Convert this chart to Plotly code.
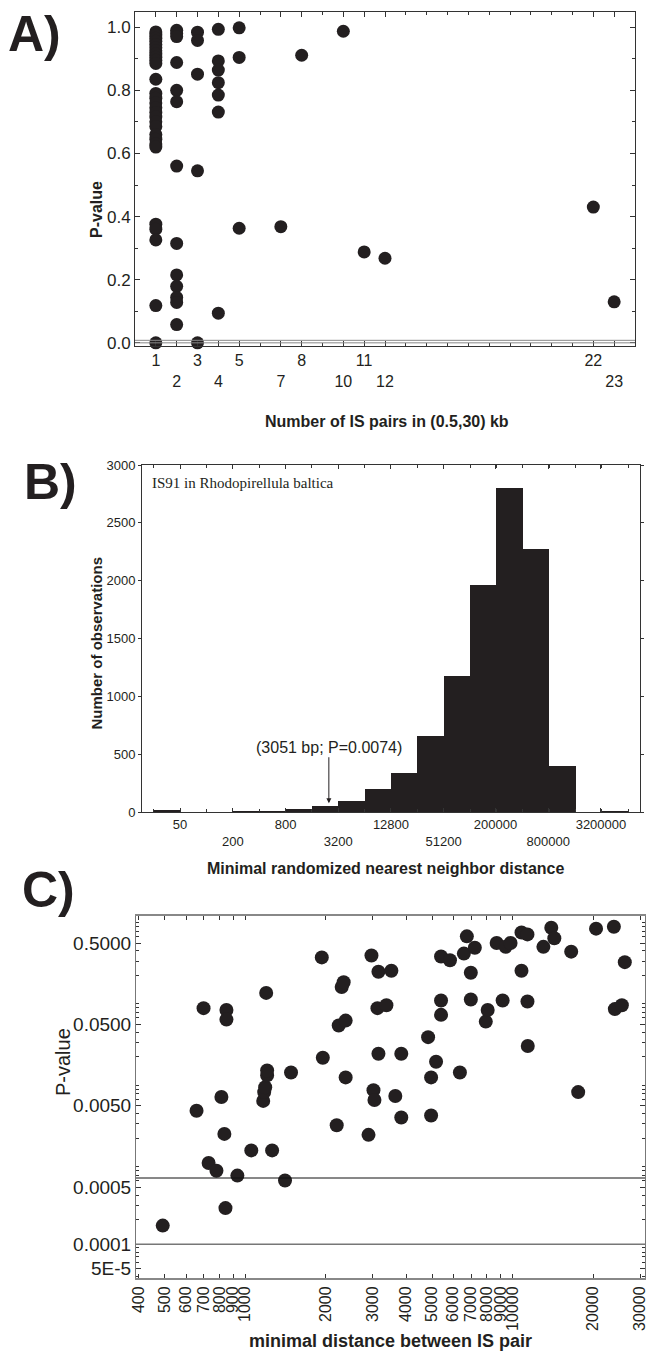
import numpy as np
import plotly.graph_objects as go

# ---------------- Panel A data ----------------
A_COUNTS = ([1] * 29 + [2] * 13 + [3] * 5 + [4] * 7 + [5] * 3 +
            [7, 8, 10, 11, 12, 22, 23])
A_PVALUES = [
    # 1 pair
    0.985, 0.975, 0.965, 0.955, 0.945, 0.935, 0.925, 0.915, 0.905, 0.895, 0.885,
    0.835, 0.79, 0.775, 0.76, 0.745, 0.73, 0.715, 0.70, 0.685, 0.66, 0.645, 0.63,
    0.62, 0.376, 0.36, 0.326, 0.118, 0.0,
    # 2 pairs
    0.99, 0.98, 0.97, 0.888, 0.80, 0.764, 0.56, 0.315, 0.215, 0.179, 0.144, 0.128, 0.058,
    # 3 pairs
    0.984, 0.958, 0.851, 0.545, 0.0,
    # 4 pairs
    0.993, 0.893, 0.864, 0.824, 0.785, 0.731, 0.094,
    # 5 pairs
    0.998, 0.904, 0.363,
    # 7, 8, 10, 11, 12, 22, 23 pairs
    0.368, 0.911, 0.987, 0.288, 0.268, 0.43, 0.13,
]
A_XTICKS = [1, 2, 3, 4, 5, 7, 8, 10, 11, 12, 22, 23]
A_XTICK_ROW = [1, 2, 1, 2, 1, 2, 1, 2, 1, 2, 1, 2]
A_YTICKS = [0.0, 0.2, 0.4, 0.6, 0.8, 1.0]
A_LINES = [0.008, 0.0]

# ---------------- Panel B data ----------------
B_BIN_LOW = [25, 50, 100, 200, 400, 800, 1600, 3200, 6400, 12800, 25600, 51200,
             102400, 204800, 409600, 819200, 1638400, 3276800]
B_COUNTS = [20, 0, 0, 5, 5, 30, 55, 92, 198, 339, 655, 1178, 1966, 2800, 2270,
            402, 0, 5]
B_XTICKS = [50, 200, 800, 3200, 12800, 51200, 200000, 800000, 3200000]
B_XTICK_ROW = [1, 2, 1, 2, 1, 2, 1, 2, 1]
B_YTICKS = [0, 500, 1000, 1500, 2000, 2500, 3000]
B_ARROW_BP = 2500     # arrow position
B_ARROW_TIP = 75
B_ARROW_TEXT_Y = 560

# ---------------- Panel C data ----------------
C_DISTANCE = [491, 657, 698, 729, 780, 814, 835, 843, 850, 850, 934, 1053, 1167,
              1177, 1187, 1207, 1207, 1197, 1260, 1408, 1483, 1933, 1950, 2198,
              2236, 2294, 2334, 2374, 2374, 2891, 2965, 3017, 3043, 3122, 3149,
              3149, 3373, 3520, 3642, 3834, 3834, 4831, 4957, 4957, 5174, 5400,
              5400, 5400, 5833, 6353, 6574, 6745, 6980, 6980, 7224, 7940, 8070,
              8720, 9180, 9420, 9830, 10800, 10800, 11370, 11370, 11400, 13040,
              13960, 14330, 16570, 17600, 20530, 23940, 24140, 25640, 26300]
C_PVALUE = [0.000169, 0.00436, 0.0793, 0.000992, 0.000797, 0.00642, 0.00226,
            0.000277, 0.0751, 0.0573, 0.000695, 0.001417, 0.00575, 0.00737,
            0.00847, 0.01182, 0.01357, 0.122, 0.001417, 0.000606, 0.01285,
            0.333, 0.0195, 0.00289, 0.0486, 0.144, 0.165, 0.0557, 0.01118,
            0.0022, 0.352, 0.00779, 0.0059, 0.0793, 0.222, 0.0218, 0.086, 0.228,
            0.0066, 0.0218, 0.0036, 0.0349, 0.01118, 0.0038, 0.0174, 0.342,
            0.0984, 0.0656, 0.307, 0.01285, 0.371, 0.604, 0.216, 0.101, 0.437,
            0.0542, 0.0751, 0.5, 0.0984, 0.449, 0.5, 0.674, 0.228, 0.638, 0.0958,
            0.0272, 0.449, 0.771, 0.572, 0.392, 0.00737, 0.751, 0.792, 0.0771,
            0.086, 0.291]
C_XTICKS = [400, 500, 600, 700, 800, 900, 1000, 2000, 3000, 4000, 5000, 6000,
            7000, 8000, 9000, 10000, 20000, 30000]
C_YTICKS = [5e-5, 1e-4, 5e-4, 5e-3, 5e-2, 0.5]
C_YTICK_TEXT = ["5E-5", "0.0001", "0.0005", "0.0050", "0.0500", "0.5000"]
C_BONFERRONI = 0.05 / 77
C_LOWLINE = 0.0001

# ---------------- layout helpers ----------------
W, H = 650, 1370
INK = "#231f20"
SANS = "Liberation Sans, Arial, sans-serif"
SERIF = "Liberation Serif, Times New Roman, serif"


def xdom(x0, x1):
    return [x0 / W, x1 / W]


def ydom(top, bottom):
    return [1 - bottom / H, 1 - top / H]


def px(x):
    return x / W


def py(y):
    return 1 - y / H


def two_rows(vals, rows, fmt=str):
    return [fmt(v) if r == 1 else " <br>" + fmt(v) for v, r in zip(vals, rows)]


fig = go.Figure()

fig.add_trace(go.Scatter(x=A_COUNTS, y=A_PVALUES, mode="markers",
                         marker=dict(size=13, color=INK), xaxis="x", yaxis="y",
                         showlegend=False, cliponaxis=False))

b_center = np.log2(np.array(B_BIN_LOW, dtype=float)) + 0.5
fig.add_trace(go.Bar(x=b_center, y=B_COUNTS, width=1.0,
                     marker=dict(color=INK, line=dict(width=0)),
                     xaxis="x2", yaxis="y2", showlegend=False))

fig.add_trace(go.Scatter(x=C_DISTANCE, y=C_PVALUE, mode="markers",
                         marker=dict(size=14, color=INK), xaxis="x3", yaxis="y3",
                         showlegend=False))


def axis(**kw):
    base = dict(showline=True, linecolor="#333333", linewidth=1, mirror="ticks",
                showgrid=False, zeroline=False, tickcolor="#333333", tickwidth=1)
    base.update(kw)
    return base


c_minor = [m * 10.0 ** e for e in range(-5, 1) for m in range(2, 10)]

fig.update_layout(
    width=W, height=H, margin=dict(l=0, r=0, t=0, b=0, autoexpand=False),
    paper_bgcolor="white", plot_bgcolor="white",
    font=dict(family=SANS, color=INK), bargap=0,
    xaxis=axis(domain=xdom(135, 635), range=[0, 24],
               tickmode="array", tickvals=A_XTICKS,
               ticktext=two_rows(A_XTICKS, A_XTICK_ROW),
               ticks="inside", ticklen=5, tickfont=dict(size=16),
               minor=dict(tickmode="linear", tick0=0, dtick=1, ticks="inside",
                          ticklen=3),
               anchor="y"),
    yaxis=axis(domain=ydom(12, 346), range=[-0.01, 1.048],
               tickmode="array", tickvals=A_YTICKS,
               ticktext=["%.1f" % v for v in A_YTICKS],
               ticks="inside", ticklen=5, tickfont=dict(size=17),
               minor=dict(tickmode="linear", tick0=0, dtick=0.1, ticks="inside",
                          ticklen=3),
               anchor="x"),
    xaxis2=axis(domain=xdom(142, 640), range=[4.2, 23.09],
                tickmode="array", tickvals=list(np.log2(B_XTICKS)),
                ticktext=two_rows(B_XTICKS, B_XTICK_ROW),
                ticks="inside", ticklen=4, tickfont=dict(size=13),
                minor=dict(tickmode="linear", tick0=float(np.log2(50)), dtick=1,
                           ticks="inside", ticklen=3),
                anchor="y2"),
    yaxis2=axis(domain=ydom(465, 812), range=[0, 3000],
                tickmode="array", tickvals=B_YTICKS,
                ticktext=[str(v) for v in B_YTICKS],
                ticks="outside", ticklen=3, tickfont=dict(size=13),
                anchor="x2"),
    xaxis3=axis(type="log", domain=xdom(136, 645),
                range=[np.log10(390), np.log10(31300)],
                tickmode="array", tickvals=C_XTICKS,
                ticktext=[str(v) for v in C_XTICKS], tickangle=-90,
                ticks="inside", ticklen=4, tickfont=dict(size=16),
                ticklabeloverflow="allow",
                anchor="y3", linecolor="#888888", linewidth=2),
    yaxis3=axis(type="log", domain=ydom(916, 1278),
                range=[-4.416, 0.031],
                tickmode="array", tickvals=C_YTICKS, ticktext=C_YTICK_TEXT,
                ticks="inside", ticklen=5, tickfont=dict(size=19),
                minor=dict(tickmode="array", tickvals=c_minor, ticks="inside",
                           ticklen=3),
                anchor="x3", linecolor="#777777"),
)

shapes = []
for v in A_LINES:
    shapes.append(dict(type="line", xref="x domain", yref="y", x0=0, x1=1,
                       y0=v, y1=v, line=dict(color="#888", width=1)))
shapes.append(dict(type="line", xref="x3 domain", yref="y3", x0=0, x1=1,
                   y0=C_BONFERRONI, y1=C_BONFERRONI, line=dict(color="#111", width=1)))
shapes.append(dict(type="line", xref="x3 domain", yref="y3", x0=0, x1=1,
                   y0=C_LOWLINE, y1=C_LOWLINE, line=dict(color="#777", width=1.5)))
fig.update_layout(shapes=shapes)

ann = []
# panel letters
for letter, x, y in [("A)", 6, 34), ("B)", 22, 482), ("C)", 20, 890)]:
    ann.append(dict(text="<b>%s</b>" % letter, x=px(x), y=py(y), xref="paper",
                    yref="paper", xanchor="left", yanchor="middle", showarrow=False,
                    font=dict(size=50, family=SANS, color=INK)))
# axis titles
ann += [
    dict(text="<b>Number of IS pairs in (0.5,30) kb</b>", x=px(387), y=py(411),
         font=dict(size=16)),
    dict(text="<b>P-value</b>", x=px(86), y=py(179), textangle=-90,
         font=dict(size=16)),
    dict(text="<b>Minimal randomized nearest neighbor distance</b>", x=px(386),
         y=py(868), font=dict(size=16)),
    dict(text="<b>Number of observations</b>", x=px(85), y=py(643), textangle=-90,
         font=dict(size=15)),
    dict(text="<b>minimal distance between IS pair</b>", x=px(390), y=py(1353),
         font=dict(size=18)),
    dict(text="P-value", x=px(50), y=py(1098), textangle=-90, font=dict(size=20)),
    dict(text="IS91 in Rhodopirellula baltica", x=px(150), y=py(483),
         xanchor="left", font=dict(size=15, family=SERIF)),
]
for a in ann:
    a.setdefault("xref", "paper")
    a.setdefault("yref", "paper")
    a.setdefault("showarrow", False)
    a["font"] = dict(dict(family=SANS, color=INK), **a["font"])

ann.append(dict(text="(3051 bp; P=0.0074)", x=float(np.log2(B_ARROW_BP)), y=B_ARROW_TIP,
                xref="x2", yref="y2", ax=float(np.log2(B_ARROW_BP)), ay=B_ARROW_TEXT_Y,
                axref="x2", ayref="y2", showarrow=True, arrowhead=2, arrowsize=1,
                arrowwidth=1, arrowcolor=INK, standoff=0,
                font=dict(size=16, family=SANS, color=INK)))
fig.update_layout(annotations=ann)

fig.write_html("out.html", config={"displayModeBar": False},
               post_script="document.body.style.margin='0';document.body.style.overflow='hidden';")
